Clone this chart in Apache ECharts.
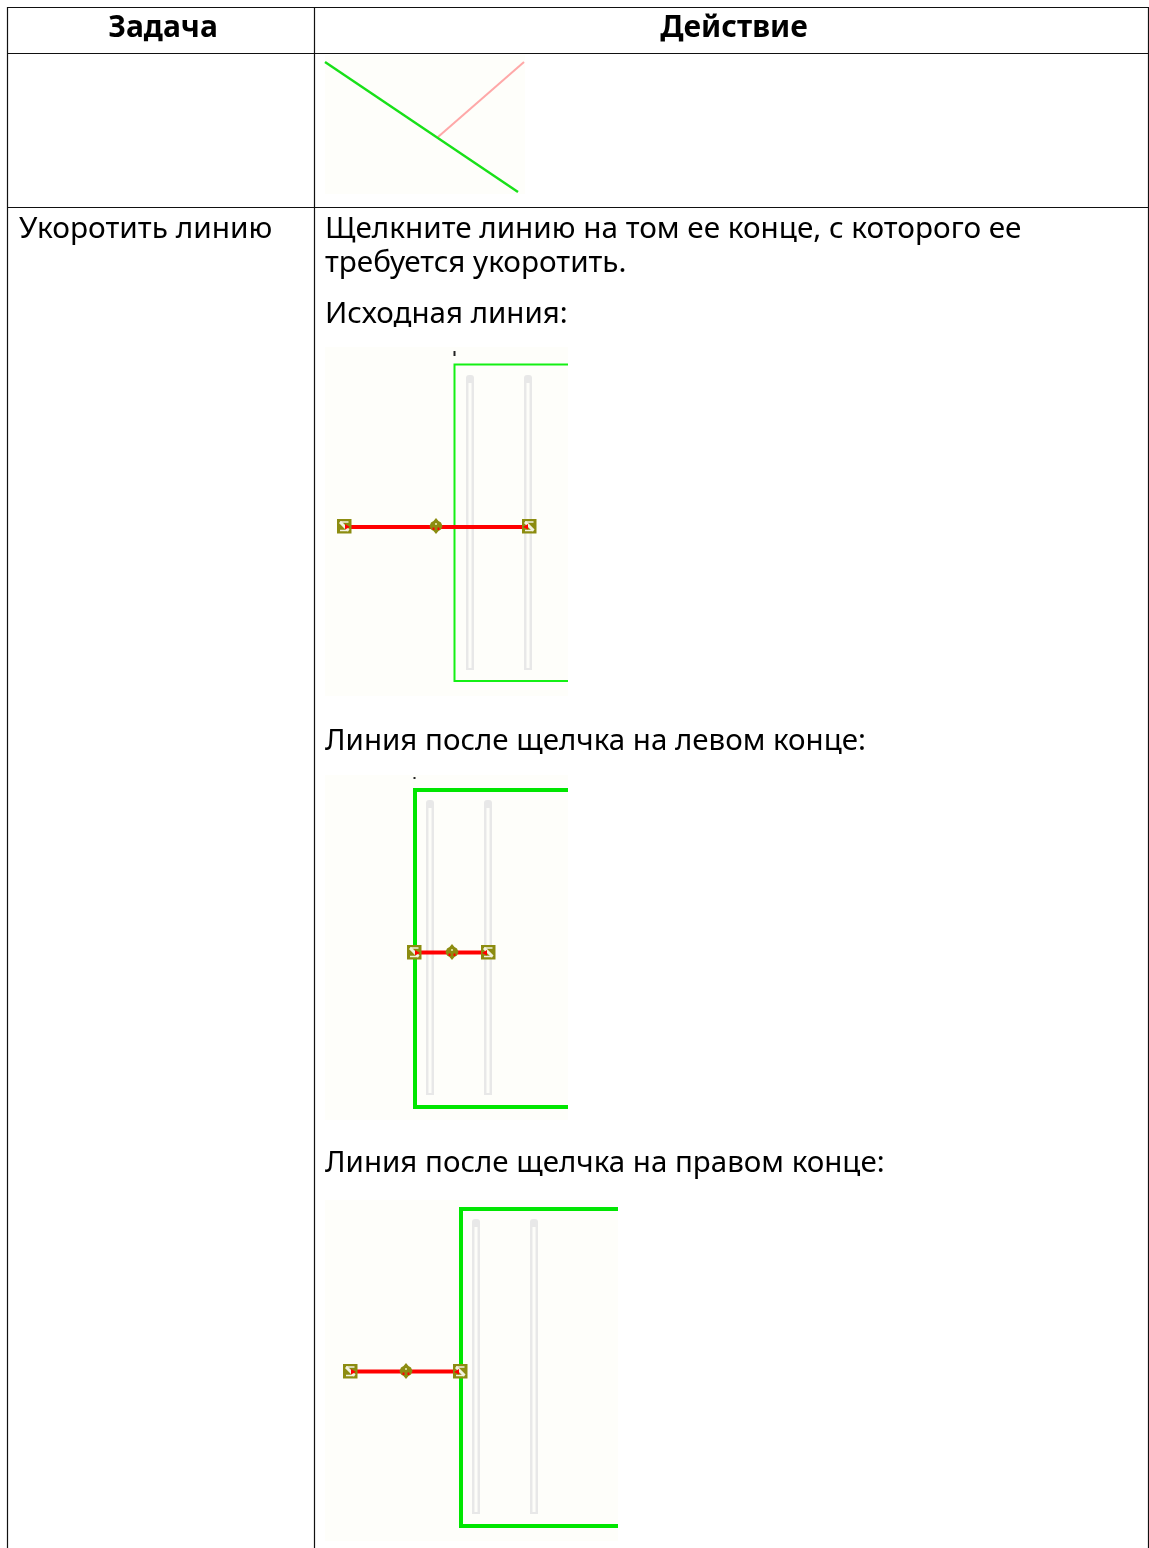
<!DOCTYPE html>
<html>
<head>
<meta charset="utf-8">
<style>html,body{margin:0;padding:0;background:#fff}#c{width:1149px;height:1548px}</style>
<script src="https://cdn.jsdelivr.net/npm/echarts@6/dist/echarts.min.js"></script>
</head>
<body>
<div id="c"></div>
<script>
// Text
const headers = ['Задача', 'Действие'];
const taskLabels = ['Укоротить линию'];
const introLines = [
  'Щелкните линию на том ее конце, с которого ее',
  'требуется укоротить.'
];
const captionLines = [
  'Исходная линия:',
  'Линия после щелчка на левом конце:',
  'Линия после щелчка на правом конце:'
];
// Geometry, in page units
const tableRules = [
  [[7,7.5],[1149,7.5]],
  [[7,53.5],[1149,53.5]],
  [[7,207.5],[1149,207.5]],
  [[7.5,7],[7.5,1548]],
  [[314.5,7],[314.5,1548]],
  [[1148.5,7],[1148.5,1548]]
];
const backdrops = [[325,55,525,194],[325,347,568,696],[325,775,568,1120],[325,1200,618,1541]];
const fig1Green = [[325,62],[518,192]];
const fig1Red = [[438,137],[524,62]];
const thinWalls = [[[568,364.5],[454.5,364.5],[454.5,681],[568,681]]];
const thickWalls = [
  [[568,790],[415,790],[415,1107],[568,1107]],
  [[618,1209],[461,1209],[461,1526],[618,1526]]
];
const tubes = [
  [466,375,474,670],[524,375,532,670],
  [426,800,434,1095],[484,800,492,1095],
  [472,1219,480,1514],[530,1219,538,1514]
];
const redLines = [
  [[344,527],[529,527]],
  [[414,952.5],[488,952.5]],
  [[350,1371.5],[460,1371.5]]
];
const endGrips = [[344,526],[529,526],[414,952],[488,952],[350,1371],[460,1371]];
const midGrips = [[436,526],[452,952],[406,1371]];
const ticks = [[[454.5,351],[454.5,356]],[[414.5,777],[414.5,779]]];
// Text anchors
const headerAnchors = [[163,28.5],[734,28.5]];
const taskAnchors = [[19,230]];
const introAnchors = [[325,230],[325,264]];
const captionAnchors = [[325,315],[325,742],[325,1164]];

const FONT = '"Noto Sans"';
const BLACK = '#000', GREEN = '#00e600', RED = '#ff0000', OLIVE = '#8c8c10', BG = '#fefefa', TUBE = '#e8e8e8';

function line(data, color, width, z) {
  return { type:'line', data, showSymbol:false, symbol:'none', silent:true, animation:false, clip:false, z,
    lineStyle:{ color, width, join:'miter', cap:'butt' } };
}
function rectSeries(data, z) {
  return { type:'custom', data, z, silent:true, animation:false, clip:false,
    encode:{x:[0,2],y:[1,3]},
    renderItem(p, api) {
      const a = api.coord([api.value(0), api.value(1)]);
      const b = api.coord([api.value(2), api.value(3)]);
      return { type:'rect', shape:{x:a[0],y:a[1],width:b[0]-a[0],height:b[1]-a[1]}, style:{fill:BG} };
    } };
}
function tubeSeries(data, z) {
  return { type:'custom', data, z, silent:true, animation:false, clip:false,
    encode:{x:[0,2],y:[1,3]},
    renderItem(p, api) {
      const a = api.coord([api.value(0), api.value(1)]);
      const b = api.coord([api.value(2), api.value(3)]);
      const w = b[0]-a[0], h = b[1]-a[1];
      return { type:'group', children:[
        { type:'rect', z2:1, shape:{x:a[0],y:a[1],width:w,height:h,r:[3,3,0,0]}, style:{fill:TUBE} },
        { type:'rect', z2:2, shape:{x:a[0]+2.5,y:a[1]+8,width:w-5,height:h-10}, style:{fill:'#fdfdf9'} }
      ] };
    } };
}
function textSeries(texts, anchors, size, weight, align) {
  return { type:'custom', data:anchors, z:20, silent:true, animation:false, clip:false,
    renderItem(p, api) {
      const c = api.coord([api.value(0), api.value(1)]);
      return { type:'text', x:c[0], y:c[1],
        style:{ text:texts[p.dataIndex], fill:BLACK, font:`${weight} ${size}px ${FONT}`, align, verticalAlign:'middle' } };
    } };
}
function gripSeries(data) {
  return { type:'custom', data, z:15, silent:true, animation:false, clip:false,
    renderItem(p, api) {
      const c = api.coord([api.value(0), api.value(1)]);
      const x = c[0], y = c[1];
      const d = p.dataIndex % 2 ? -1 : 1;
      return { type:'group', children:[
        { type:'rect', z2:1, shape:{x:x-7,y:y-7,width:14.5,height:14.5}, style:{fill:OLIVE} },
        { type:'line', z2:2, shape:{x1:x-4,y1:y-4,x2:x+4.5,y2:y+4.5}, style:{stroke:'#f2f2e0',lineWidth:3} },
        { type:'line', z2:2, shape:{x1:x-4,y1:y-4,x2:x+4.5,y2:y-4}, style:{stroke:'#f2f2e0',lineWidth:1.5} },
        { type:'line', z2:2, shape:{x1:x-4,y1:y+4.5,x2:x+4.5,y2:y+4.5}, style:{stroke:'#f2f2e0',lineWidth:1.5} },
        { type:'polygon', z2:4, shape:{points:[[x+d*6,y+1],[x+d*1,y-2],[x+d*1,y+3.5]]}, style:{fill:RED} }
      ] };
    } };
}
function diamondSeries(data) {
  return { type:'custom', data, z:15, silent:true, animation:false, clip:false,
    renderItem(p, api) {
      const c = api.coord([api.value(0), api.value(1)]);
      const x = c[0], y = c[1];
      return { type:'group', children:[
        { type:'polygon', z2:1, shape:{points:[[x,y-8],[x+2.5,y-5],[x+5,y-3.5],[x+6.5,y],[x+5,y+3.5],[x+2.5,y+5],[x,y+8],[x-2.5,y+5],[x-5,y+3.5],[x-6.5,y],[x-5,y-3.5],[x-2.5,y-5]]}, style:{fill:OLIVE} },
        { type:'rect', z2:2, shape:{x:x-1,y:y-3,width:2,height:2}, style:{fill:'#d8d890'} },
        { type:'rect', z2:2, shape:{x:x-3.5,y:y+1.5,width:2,height:2.5}, style:{fill:RED} },
        { type:'rect', z2:2, shape:{x:x+1.5,y:y+1.5,width:2,height:2.5}, style:{fill:RED} }
      ] };
    } };
}

const series = [
  rectSeries(backdrops, 1),
  tubeSeries(tubes, 3),
  line(fig1Green, '#18e018', 2.4, 5),
  line(fig1Red, '#ffa8a8', 2, 4),
  ...thinWalls.map(d => line(d, '#14f014', 2, 6)),
  ...thickWalls.map(d => line(d, GREEN, 4, 6)),
  ...redLines.map(d => line(d, RED, 4, 8)),
  ...ticks.map(d => line(d, '#222', 2, 8)),
  ...tableRules.map(d => line(d, '#111', 1.2, 10)),
  gripSeries(endGrips),
  diamondSeries(midGrips),
  textSeries(headers, headerAnchors, 30, 'bold', 'center'),
  textSeries(taskLabels, taskAnchors, 29.8, 'normal', 'left'),
  textSeries(introLines, introAnchors, 29.7, 'normal', 'left'),
  textSeries(captionLines, captionAnchors, 29.5, 'normal', 'left')
];

const chart = echarts.init(document.getElementById('c'), null, {renderer:'canvas', devicePixelRatio:1});
chart.setOption({
  backgroundColor:'#ffffff',
  animation:false,
  grid:{left:0,top:0,width:1149,height:1548,containLabel:false},
  xAxis:{type:'value',min:0,max:1149,show:false},
  yAxis:{type:'value',min:0,max:1548,inverse:true,show:false},
  series
});
</script>
</body>
</html>
